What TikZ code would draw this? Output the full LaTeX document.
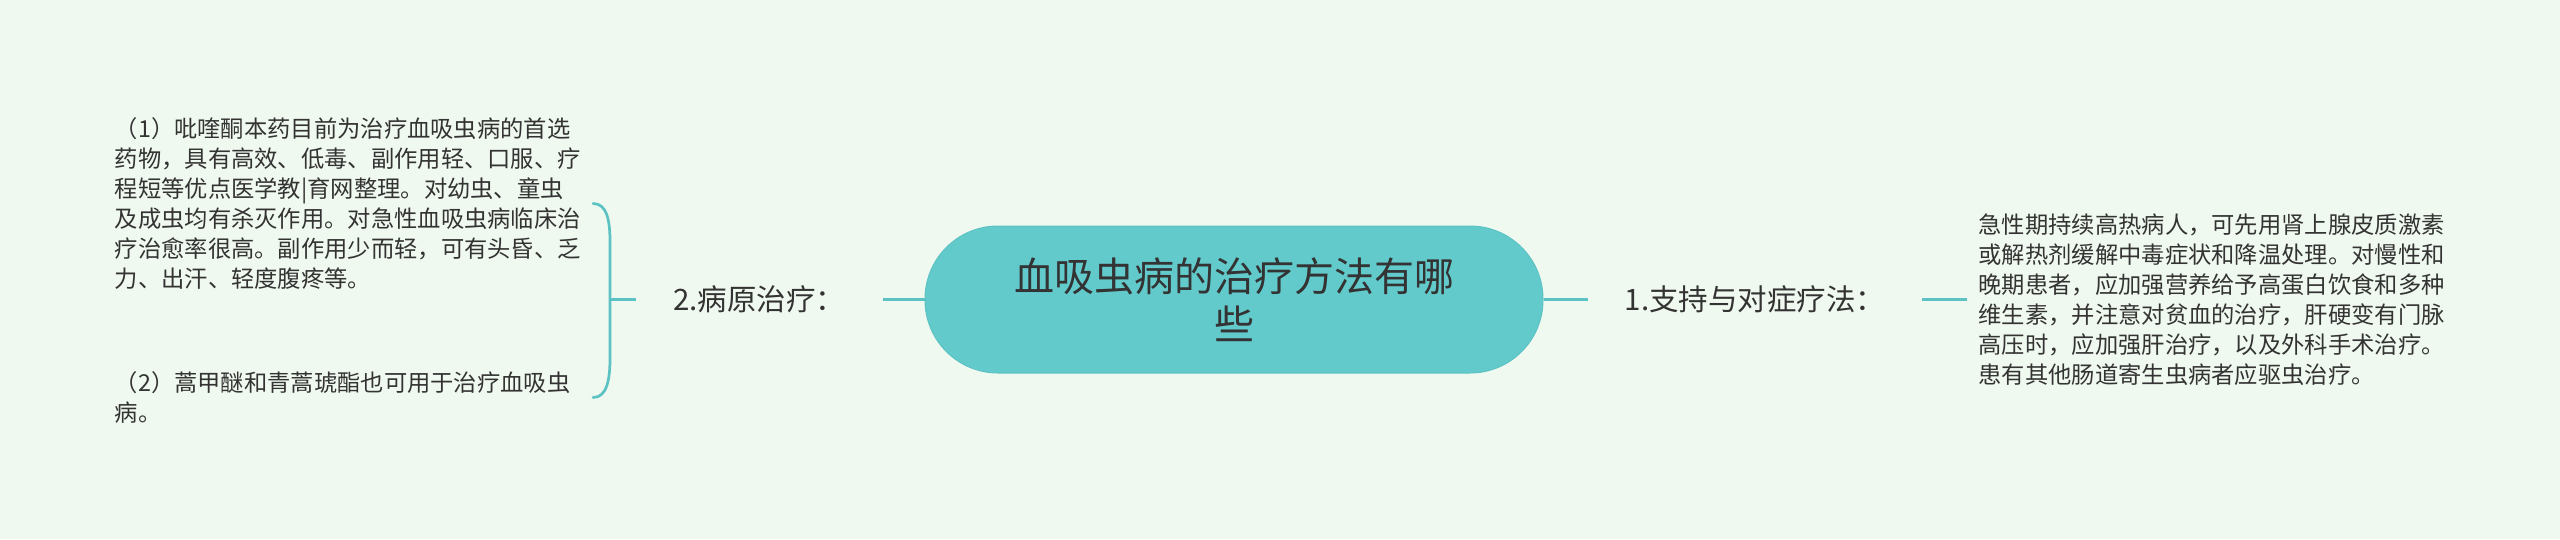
\documentclass[tikz,border=0pt]{standalone}
\usepackage{fontspec}
\newfontfamily\cjk{Noto Sans CJK SC}
\usetikzlibrary{positioning,calc}
\definecolor{bgmint}{HTML}{F0F9EF}
\definecolor{tealfill}{HTML}{63CACC}
\definecolor{tealline}{HTML}{5DC2C4}
\definecolor{inktext}{HTML}{333333}

\begin{document}
\begin{tikzpicture}[x=1pt,y=-1pt,
  topic/.style={fill=tealfill, draw=tealline, line width=1pt, rounded corners=73pt,
    minimum width=618pt, minimum height=147pt, align=center, text=inktext,
    font=\cjk\fontsize{40}{48}\selectfont},
  branch/.style={inner xsep=37pt, inner ysep=4pt, text=inktext,
    font=\cjk\fontsize{29.5}{34}\selectfont},
  leaf/.style={inner xsep=11pt, inner ysep=4pt, text width=467pt, align=left, text=inktext,
    font=\cjk\fontsize{23.3}{30}\selectfont},
  link/.style={draw=tealline, line width=3pt},
  brace/.style={draw=tealline, line width=2.7pt, line cap=round}]
  \fill[bgmint] (0,0) rectangle (2560,539);
  \useasboundingbox (0,0) rectangle (2560,539);

  \node[topic] (root) at (1234,299.5) {血吸虫病的治疗方法有哪\\些};

  % right side
  \node[branch, right=44pt of root] (support) {1.支持与对症疗法：};
  \node[leaf, right=45pt of support] (supportleaf)
    {急性期持续高热病人，可先用肾上腺皮质激素\\
     或解热剂缓解中毒症状和降温处理。对慢性和\\
     晚期患者，应加强营养给予高蛋白饮食和多种\\
     维生素，并注意对贫血的治疗，肝硬变有门脉\\
     高压时，应加强肝治疗，以及外科手术治疗。\\
     患有其他肠道寄生虫病者应驱虫治疗。};

  % left side
  \node[branch, left=42pt of root] (cause) {2.病原治疗：};
  \node[leaf, anchor=east] (drug1) at ($(cause.west)+(-43,-96)$)
    {（1）吡喹酮本药目前为治疗血吸虫病的首选\\
     药物，具有高效、低毒、副作用轻、口服、疗\\
     程短等优点医学教|育网整理。对幼虫、童虫\\
     及成虫均有杀灭作用。对急性血吸虫病临床治\\
     疗治愈率很高。副作用少而轻，可有头昏、乏\\
     力、出汗、轻度腹疼等。};
  \node[leaf, anchor=east] (drug2) at ($(cause.west)+(-43,98)$)
    {（2）蒿甲醚和青蒿琥酯也可用于治疗血吸虫\\
     病。};

  \path[link]
  (root) edge (support)
         edge (cause)
  (support) edge (supportleaf);

  \coordinate (spine) at ($(cause.west)+(-26,0)$);
  \draw[link] (spine) -- (cause.west);
  \draw[brace] (drug1.east) .. controls +(14,0) and +(0,-22) .. ($(spine)+(0,-57)$)
    -- ($(spine)+(0,58)$) .. controls +(0,22) and +(14,0) .. (drug2.east);
\end{tikzpicture}
\end{document}
